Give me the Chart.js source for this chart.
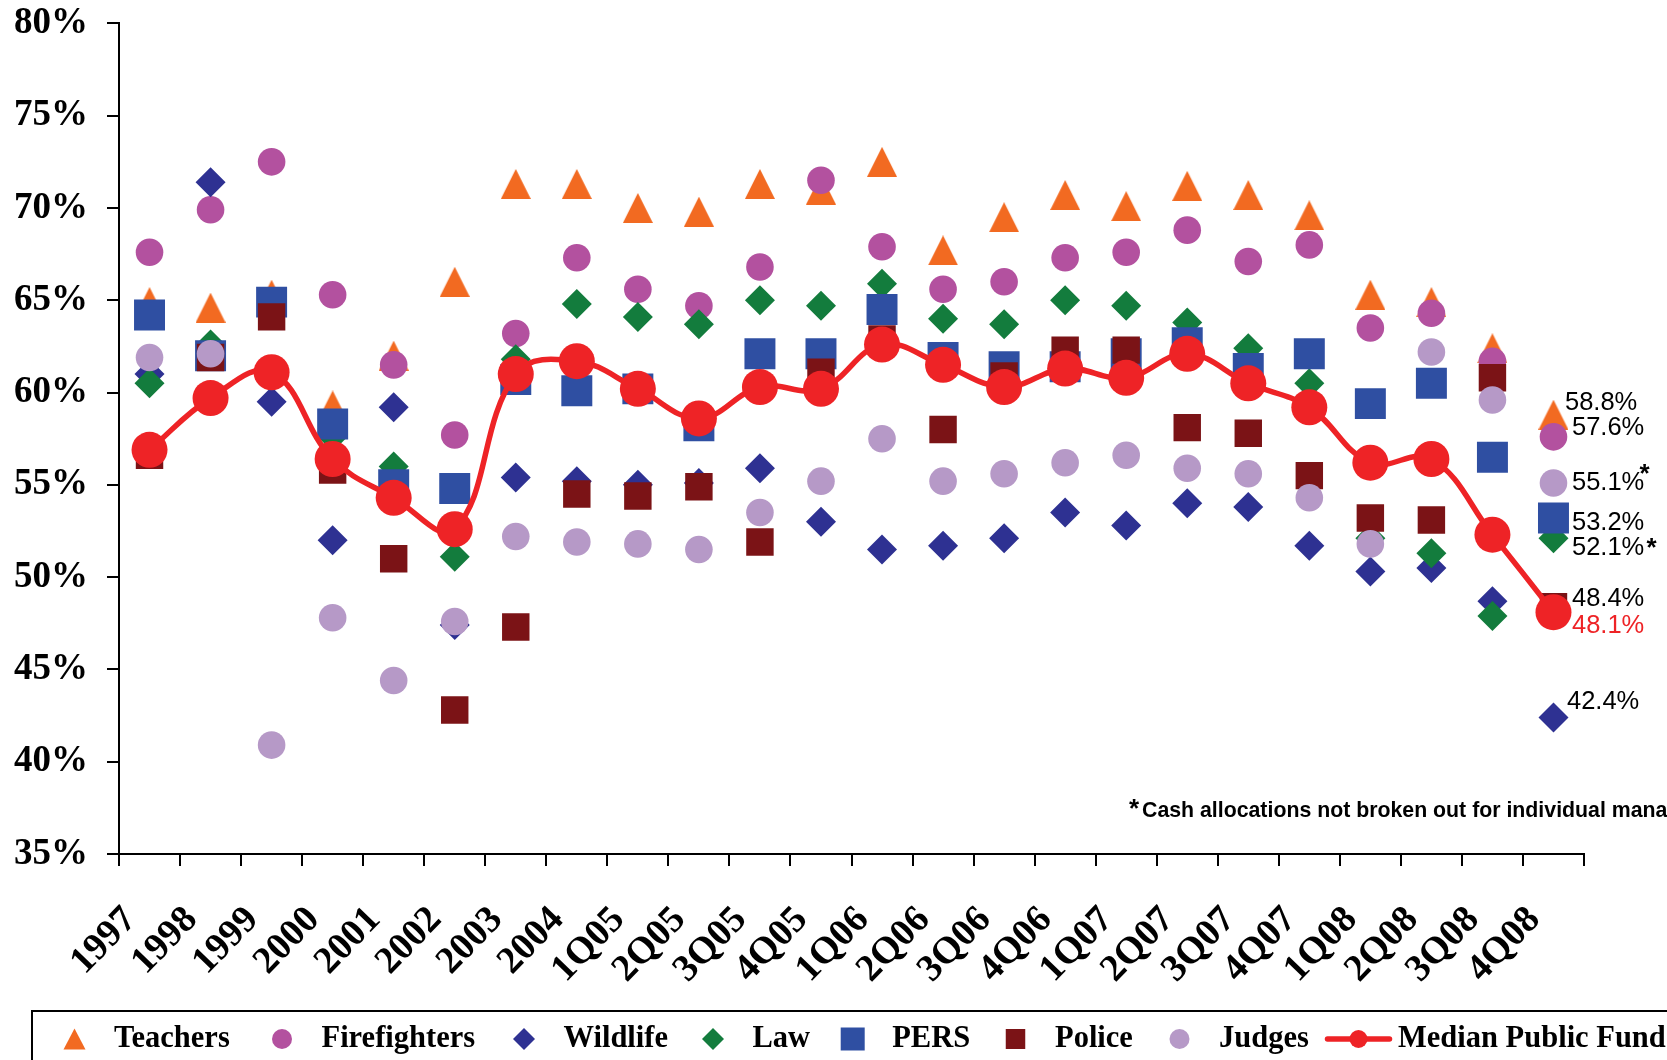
<!DOCTYPE html>
<html>
<head>
<meta charset="utf-8">
<script src="https://cdn.jsdelivr.net/npm/chart.js@4.4.1/dist/chart.umd.min.js"></script>
<style>
  html, body { margin: 0; padding: 0; background: #fff; }
  canvas { display: block; }
</style>
</head>
<body>
<canvas id="chart" width="1667" height="1060"></canvas>
<script>
// Periods on the horizontal axis
const categories = ['1997','1998','1999','2000','2001','2002','2003','2004',
  '1Q05','2Q05','3Q05','4Q05','1Q06','2Q06','3Q06','4Q06',
  '1Q07','2Q07','3Q07','4Q07','1Q08','2Q08','3Q08','4Q08'];

// Equity allocation (%) by plan
const teachers     = [64.9,64.6,65.3,59.3,62.0,66.0,71.3,71.3,70.0,69.8,71.3,71.0,72.5,67.7,69.5,70.7,70.1,71.2,70.7,69.6,65.3,64.9,62.4,58.8];
const firefighters = [67.6,69.9,72.5,65.3,61.5,57.7,63.2,67.3,65.6,64.7,66.8,71.5,67.9,65.6,66.0,67.3,67.6,68.8,67.1,68.0,63.5,64.3,61.7,57.6];
const wildlife     = [61.0,71.4,59.5,52.0,59.2,47.4,55.4,55.2,55.0,55.1,55.9,53.0,51.5,51.7,52.1,53.5,52.8,54.0,53.8,51.7,50.3,50.5,48.7,42.4];
const law          = [60.5,62.6,61.2,57.6,56.0,51.1,61.8,64.8,64.1,63.7,65.0,64.7,65.9,64.0,63.7,65.0,64.7,63.8,62.4,60.5,52.1,51.3,47.9,52.1];
const pers         = [64.2,62.0,64.9,58.3,55.0,54.8,60.7,60.1,60.2,58.2,62.1,62.1,64.5,61.9,61.4,61.4,62.1,62.7,61.3,62.1,59.4,60.5,56.5,53.2];
const police       = [56.6,61.9,64.1,55.8,51.0,42.8,47.3,54.5,54.4,54.9,51.9,61.1,62.9,58.0,60.9,62.3,62.3,58.1,57.8,55.5,53.2,53.1,60.8,48.4];
const judges       = [61.9,62.1,40.9,47.8,44.4,47.6,52.2,51.9,51.8,51.5,53.5,55.2,57.5,55.2,55.6,56.2,56.6,55.9,55.6,54.3,51.8,62.2,59.6,55.1];
const median       = [56.9,59.7,61.1,56.4,54.3,52.6,61.0,61.7,60.2,58.6,60.3,60.2,62.6,61.5,60.3,61.3,60.8,62.1,60.5,59.2,56.2,56.4,52.3,48.1];

// Vertical axis tick values
const yTicks = [35, 40, 45, 50, 55, 60, 65, 70, 75, 80];

const COLORS = {
  teachers: '#F26A21', firefighters: '#B3519F', wildlife: '#2E3192', law: '#137C3D',
  pers: '#2F4FA2', police: '#7B1316', judges: '#B699C7', median: '#EE2326'
};

// Upward triangle sprite, centred on its bounding box
function triangleSprite(w, h, color) {
  const c = document.createElement('canvas');
  c.width = w; c.height = h;
  const g = c.getContext('2d');
  g.fillStyle = color;
  g.beginPath();
  g.moveTo(w / 2, 0); g.lineTo(w, h); g.lineTo(0, h);
  g.closePath(); g.fill();
  return c;
}

function markers(label, data, color, style, radius, order) {
  return {
    label, data, order,
    showLine: false,
    pointStyle: style,
    pointRadius: radius,
    pointHoverRadius: radius,
    pointBackgroundColor: color,
    pointBorderColor: color,
    pointBorderWidth: 0,
    borderColor: color,
    backgroundColor: color
  };
}

const datasets = [
  markers('Teachers', teachers, COLORS.teachers, triangleSprite(30, 30, COLORS.teachers), 15, 8),
  markers('Firefighters', firefighters, COLORS.firefighters, 'circle', 13.8, 7),
  markers('Wildlife', wildlife, COLORS.wildlife, 'rectRot', 15, 6),
  markers('Law', law, COLORS.law, 'rectRot', 15, 5),
  markers('PERS', pers, COLORS.pers, 'rect', 21.9, 4),
  markers('Police', police, COLORS.police, 'rect', 19.4, 3),
  markers('Judges', judges, COLORS.judges, 'circle', 13.8, 2),
  {
    label: 'Median Public Fund', data: median, order: 1,
    borderColor: COLORS.median, backgroundColor: COLORS.median,
    borderWidth: 5.5, tension: 0.4, fill: false,
    pointStyle: 'circle', pointRadius: 18, pointHoverRadius: 18,
    pointBackgroundColor: COLORS.median, pointBorderColor: COLORS.median, pointBorderWidth: 0
  }
];

// Value call-outs next to the last period
const endLabels = [
  { ds: 0, dx: 11.5, dy: -12 },
  { ds: 1, dx: 18.5, dy: -9 },
  { ds: 6, dx: 18.5, dy: 0, star: { dx: 91, dy: -16 } },
  { ds: 4, dx: 18.5, dy: 5 },
  { ds: 3, dx: 18.5, dy: 10, star: { dx: 98, dy: 3 } },
  { ds: 5, dx: 18.5, dy: -8 },
  { ds: 7, dx: 18.5, dy: 14, color: COLORS.median },
  { ds: 2, dx: 13.5, dy: -15 }
];

// Legend entries: marker centre x, shared row y
const legendLayout = {
  box: { x: 32, y: 1011 },
  y: 1039,
  markerX: [74.5, 282, 524, 713, 852.7, 1015.5, 1179.5, 1358.5],
  textGap: 39.5
};

function drawLegendMarker(ctx, i, x, y) {
  const ds = datasets[i];
  const color = ds.pointBackgroundColor;
  ctx.fillStyle = color;
  ctx.beginPath();
  switch (i) {
    case 0: ctx.moveTo(x, y - 10.5); ctx.lineTo(x + 11, y + 10.5); ctx.lineTo(x - 11, y + 10.5); break;
    case 1: case 6: ctx.arc(x, y, 10, 0, Math.PI * 2); break;
    case 2: case 3: ctx.moveTo(x, y - 11); ctx.lineTo(x + 11, y); ctx.lineTo(x, y + 11); ctx.lineTo(x - 11, y); break;
    case 4: ctx.rect(x - 12, y - 11.5, 24, 23); break;
    case 5: ctx.rect(x - 9.75, y - 10, 19.5, 20); break;
    case 7:
      ctx.strokeStyle = color; ctx.lineWidth = 5.5; ctx.lineCap = 'round';
      ctx.moveTo(x - 31, y); ctx.lineTo(x + 31, y); ctx.stroke();
      ctx.beginPath(); ctx.arc(x, y, 9, 0, Math.PI * 2); break;
  }
  ctx.closePath();
  ctx.fill();
}

const annotations = {
  id: 'annotations',
  afterDraw(chart) {
    const { ctx, scales } = chart;
    const xs = scales.x, ys = scales.y;
    const last = categories.length - 1;
    const px = xs.getPixelForValue(last);

    ctx.save();
    // call-outs with the final values
    ctx.textBaseline = 'middle';
    ctx.textAlign = 'left';
    ctx.font = '25.5px "Liberation Sans", Arial, sans-serif';
    endLabels.forEach(l => {
      const v = datasets[l.ds].data[last];
      const py = ys.getPixelForValue(v);
      ctx.fillStyle = l.color || '#000';
      ctx.fillText(v.toFixed(1) + '%', px + l.dx, py + l.dy);
      if (l.star) {
        ctx.save();
        ctx.font = 'bold 26px "Liberation Sans", Arial, sans-serif';
        ctx.textAlign = 'center';
        ctx.textBaseline = 'alphabetic';
        ctx.fillStyle = '#000';
        ctx.fillText('*', px + l.star.dx, py + l.star.dy + 15);
        ctx.restore();
      }
    });

    // footnote
    ctx.textBaseline = 'alphabetic';
    ctx.fillStyle = '#000';
    ctx.font = 'bold 26px "Liberation Sans", Arial, sans-serif';
    ctx.fillText('*', 1129, 817);
    ctx.font = 'bold 21.3px "Liberation Sans", Arial, sans-serif';
    ctx.fillText('Cash allocations not broken out for individual managers', 1142, 817);

    // legend
    const L = legendLayout;
    ctx.strokeStyle = '#000';
    ctx.lineWidth = 2;
    ctx.strokeRect(L.box.x, L.box.y, 1800, 200);
    ctx.font = 'bold 30.5px "Liberation Serif", "Times New Roman", serif';
    ctx.textBaseline = 'middle';
    datasets.forEach((ds, i) => {
      const mx = L.markerX[i];
      ctx.save();
      drawLegendMarker(ctx, i, mx, L.y);
      ctx.restore();
      ctx.fillStyle = '#000';
      ctx.fillText(ds.label, mx + L.textGap, L.y);
    });
    ctx.restore();
  }
};

new Chart(document.getElementById('chart'), {
  type: 'line',
  data: { labels: categories, datasets },
  plugins: [annotations],
  options: {
    responsive: false,
    animation: false,
    devicePixelRatio: 1,
    layout: { padding: { top: 23.4, right: 83, bottom: 0, left: 0 } },
    plugins: { legend: { display: false }, tooltip: { enabled: false } },
    scales: {
      x: {
        type: 'category',
        offset: true,
        afterFit(scale) {
          scale.height = 206;
          scale.paddingLeft = 0; scale.paddingRight = 0;
        },
        border: { display: true, color: '#000', width: 2 },
        grid: { display: true, drawOnChartArea: false, drawTicks: true, tickLength: 12, color: '#000', lineWidth: 2, offset: true },
        ticks: {
          autoSkip: false, minRotation: 46, maxRotation: 46,
          padding: 32, labelOffset: -19, color: '#000',
          font: { family: '"Liberation Serif", "Times New Roman", serif', weight: 'bold', size: 38 }
        }
      },
      y: {
        min: 35, max: 80,
        afterFit(scale) {
          scale.width = 119;
          scale.paddingTop = 0; scale.paddingBottom = 0;
        },
        afterBuildTicks(scale) { scale.ticks = yTicks.map(v => ({ value: v })); },
        border: { display: true, color: '#000', width: 2 },
        grid: { display: true, drawOnChartArea: false, drawTicks: true, tickLength: 12, color: '#000', lineWidth: 2 },
        ticks: {
          padding: 19, color: '#000',
          callback: v => v + '%',
          font: { family: '"Liberation Serif", "Times New Roman", serif', weight: 'bold', size: 37 }
        }
      }
    }
  }
});
</script>
</body>
</html>
